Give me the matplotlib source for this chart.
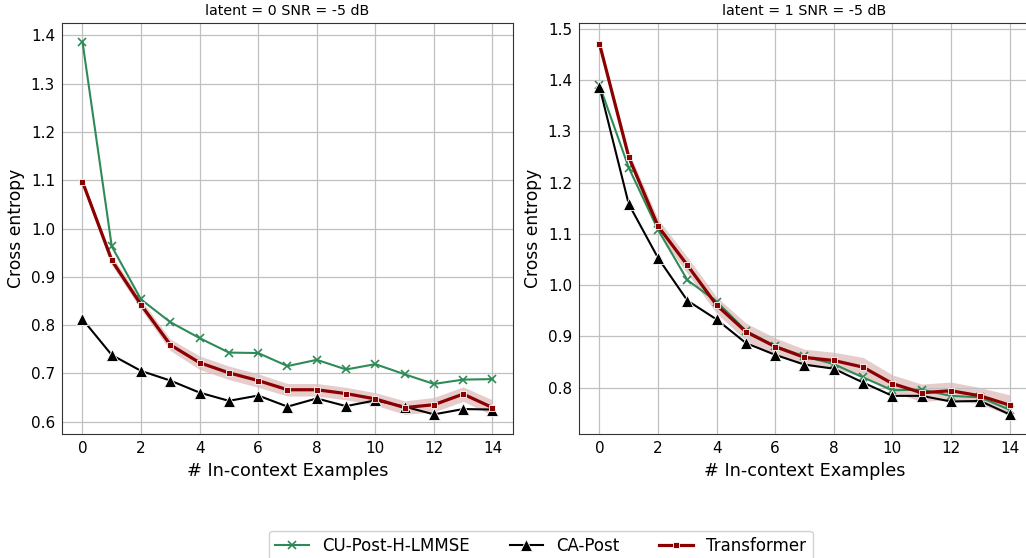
"""Cross entropy vs number of in-context examples, two latent settings."""

import numpy as np
import matplotlib
matplotlib.use("Agg")
import matplotlib.pyplot as plt

N_EXAMPLES = list(range(15))

TITLES = ["latent = 0 SNR = -5 dB", "latent = 1 SNR = -5 dB"]

# latent = 0
CU_POST_0 = [1.387, 0.963, 0.853, 0.806, 0.773, 0.743, 0.742, 0.715, 0.728,
             0.708, 0.719, 0.698, 0.678, 0.687, 0.688]
CA_POST_0 = [0.812, 0.738, 0.705, 0.685, 0.660, 0.643, 0.654, 0.631, 0.648,
             0.632, 0.644, 0.631, 0.615, 0.626, 0.625]
TRANSF_0 = [1.097, 0.934, 0.842, 0.759, 0.722, 0.701, 0.685, 0.666, 0.666,
            0.658, 0.647, 0.629, 0.635, 0.657, 0.629]
TRANSF_ERR_0 = [0.004, 0.010, 0.010, 0.012, 0.014, 0.014, 0.014, 0.013, 0.013,
                0.013, 0.013, 0.014, 0.015, 0.015, 0.016]

# latent = 1
CU_POST_1 = [1.390, 1.229, 1.108, 1.010, 0.968, 0.911, 0.881, 0.861, 0.846,
             0.820, 0.795, 0.796, 0.784, 0.781, 0.757]
CA_POST_1 = [1.387, 1.158, 1.053, 0.970, 0.933, 0.887, 0.864, 0.845, 0.837,
             0.810, 0.784, 0.784, 0.773, 0.774, 0.748]
TRANSF_1 = [1.471, 1.250, 1.115, 1.039, 0.961, 0.909, 0.880, 0.859, 0.853,
            0.840, 0.808, 0.790, 0.794, 0.784, 0.766]
TRANSF_ERR_1 = [0.004, 0.010, 0.014, 0.016, 0.016, 0.017, 0.017, 0.016, 0.016,
                0.019, 0.017, 0.017, 0.017, 0.016, 0.020]

PANELS = [
    (CU_POST_0, CA_POST_0, TRANSF_0, TRANSF_ERR_0),
    (CU_POST_1, CA_POST_1, TRANSF_1, TRANSF_ERR_1),
]

GREEN = "#2e8b57"
RED = "#8b0000"


def draw_panel(ax, title, cu, ca, tr, err):
    x = np.array(N_EXAMPLES)
    tr = np.array(tr)
    err = np.array(err)
    ax.plot(x, cu, color=GREEN, lw=1.5, marker="x", ms=6, mew=1.2,
            label="CU-Post-H-LMMSE")
    ax.plot(x, ca, color="black", lw=1.5, marker="^", ms=8, mec="white",
            mew=0.6, label="CA-Post")
    ax.fill_between(x, tr - err, tr + err, color=RED, alpha=0.2, lw=0)
    ax.plot(x, tr, color=RED, lw=2.3, marker="s", ms=4.5, mec="white",
            mew=0.6, label="Transformer")
    ax.set_title(title, fontsize=10.3)
    ax.set_xlabel("# In-context Examples", fontsize=12.7)
    ax.set_ylabel("Cross entropy", fontsize=12.3)
    ax.set_xticks(range(0, 15, 2))
    ax.tick_params(labelsize=11, length=0, pad=5)
    ax.grid(True, color="#c0c0c0", lw=0.9)
    for sp in ax.spines.values():
        sp.set_color("#333333")


def main():
    fig = plt.figure(figsize=(10.26, 5.58), dpi=100)
    ax1 = fig.add_axes([0.0604, 0.2222, 0.4396, 0.7366])
    ax2 = fig.add_axes([0.5643, 0.2222, 0.4396, 0.7366])

    for ax, title, data in zip([ax1, ax2], TITLES, PANELS):
        draw_panel(ax, title, *data)

    handles, labels = ax1.get_legend_handles_labels()
    fig.legend(handles, labels, loc="upper center", ncol=3, fontsize=12,
               bbox_to_anchor=(0.527, 0.064), framealpha=0.9, columnspacing=2.4)

    fig.savefig("out.png", dpi=100)
    plt.close(fig)


if __name__ == "__main__":
    main()
